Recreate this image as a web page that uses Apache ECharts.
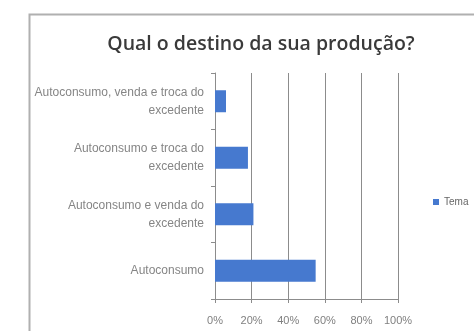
<!DOCTYPE html>
<html>
<head>
<meta charset="utf-8">
<script src="https://cdn.jsdelivr.net/npm/echarts@6/dist/echarts.min.js"></script>
<style>
  html, body { margin: 0; padding: 0; background: #fff; }
  #chart { width: 474px; height: 331px; }
</style>
</head>
<body>
<div id="chart"></div>
<script>
// Categories listed bottom to top, as the category axis draws them
const categories = [
  'Autoconsumo',
  'Autoconsumo e venda do\nexcedente',
  'Autoconsumo e troca do\nexcedente',
  'Autoconsumo, venda e troca do\nexcedente'
];
const shares = [55, 21, 18, 6];
const seriesName = 'Tema';
const titleText = 'Qual o destino da sua produção?';
const xTicks = { min: 0, max: 100, interval: 20 };

const chart = echarts.init(document.getElementById('chart'), null, { renderer: 'canvas' });

chart.setOption({
  animation: false,
  backgroundColor: '#ffffff',
  title: {
    text: titleText,
    left: 256,
    top: 29,
    textAlign: 'center',
    textStyle: {
      fontFamily: 'Open Sans',
      fontWeight: 600,
      fontSize: 19.5,
      color: '#3a3a3a'
    }
  },
  graphic: [{
    type: 'rect',
    left: 27,
    top: 12,
    shape: { width: 500, height: 400 },
    style: { fill: 'none', stroke: '#b0b0b0', lineWidth: 2 },
    silent: true
  }],
  legend: {
    left: 428,
    top: 192,
    itemWidth: 6,
    itemHeight: 6,
    itemGap: 4,
    icon: 'rect',
    textStyle: { fontSize: 10, color: '#666', fontFamily: 'Liberation Sans' },
    data: [seriesName]
  },
  grid: { left: 215, right: 76, top: 73, bottom: 32, containLabel: false },
  xAxis: {
    type: 'value',
    min: xTicks.min,
    max: xTicks.max,
    interval: xTicks.interval,
    axisLine: { show: true, lineStyle: { color: '#8c8c8c', width: 1 } },
    axisTick: { show: true, length: 4, lineStyle: { color: '#8c8c8c' } },
    splitLine: { show: true, lineStyle: { color: '#8c8c8c', width: 1 } },
    axisLabel: {
      formatter: '{value}%',
      fontSize: 11,
      color: '#808080',
      margin: 16,
      fontFamily: 'Liberation Sans'
    }
  },
  yAxis: {
    type: 'category',
    data: categories,
    axisLine: { show: true, lineStyle: { color: '#8c8c8c', width: 1 } },
    axisTick: { show: true, length: 4, lineStyle: { color: '#8c8c8c' } },
    axisLabel: {
      fontSize: 12,
      color: '#858585',
      margin: 11,
      lineHeight: 18,
      align: 'right',
      padding: [5, 0, 0, 0],
      fontFamily: 'Liberation Sans'
    }
  },
  series: [{
    name: seriesName,
    type: 'bar',
    data: shares,
    barWidth: 22,
    itemStyle: { color: '#4679cf' }
  }]
});
</script>
</body>
</html>
